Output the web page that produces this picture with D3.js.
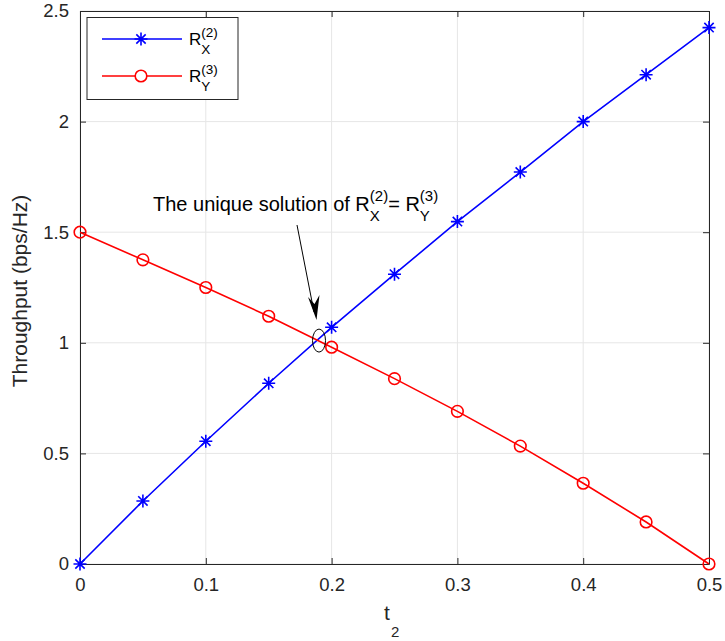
<!DOCTYPE html>
<html><head><meta charset="utf-8">
<script src="https://cdn.jsdelivr.net/npm/d3@7"></script>
<style>body{margin:0;background:#fff}svg{font-family:"Liberation Sans",Arial,sans-serif}</style>
</head><body>
<svg id="c" width="725" height="641"></svg>
<script>
const tValues = [0,0.05,0.1,0.15,0.2,0.25,0.3,0.35,0.4,0.45,0.5];
const rX2 = [0,0.285,0.555,0.817,1.07,1.31,1.548,1.772,2.0,2.212,2.425];
const rY3 = [1.5,1.375,1.25,1.12,0.98,0.838,0.69,0.533,0.365,0.19,0];
const xTicks = [0,0.1,0.2,0.3,0.4,0.5];
const yTicks = [0,0.5,1,1.5,2,2.5];
const solution = {t:0.19, v:1.01};

const svg = d3.select("#c");
const L=80,R=709,T=11,B=564;
const x = d3.scaleLinear().domain([0,0.5]).range([L,R]);
const y = d3.scaleLinear().domain([0,2.5]).range([B,T]);

// grid
svg.append("g").selectAll("line").data(xTicks).join("line")
  .attr("x1",d=>x(d)).attr("x2",d=>x(d)).attr("y1",T).attr("y2",B)
  .attr("stroke","#e6e6e6").attr("stroke-width",1);
svg.append("g").selectAll("line").data(yTicks).join("line")
  .attr("y1",d=>y(d)).attr("y2",d=>y(d)).attr("x1",L).attr("x2",R)
  .attr("stroke","#e6e6e6").attr("stroke-width",1);

// axes
const fs = 18.5;
svg.append("g").attr("transform",`translate(0,${B})`)
  .call(d3.axisBottom(x).tickValues(xTicks).tickFormat(d3.format("")).tickSizeInner(-6).tickSizeOuter(0).tickPadding(14));
svg.append("g").attr("transform",`translate(${L},0)`)
  .call(d3.axisLeft(y).tickValues(yTicks).tickFormat(d3.format("")).tickSizeInner(-6).tickSizeOuter(0).tickPadding(11));
svg.append("g").attr("transform",`translate(0,${T})`)
  .call(d3.axisTop(x).tickValues(xTicks).tickFormat("").tickSizeInner(-6).tickSizeOuter(0));
svg.append("g").attr("transform",`translate(${R},0)`)
  .call(d3.axisRight(y).tickValues(yTicks).tickFormat("").tickSizeInner(-6).tickSizeOuter(0));
svg.selectAll(".domain").attr("stroke","#262626");
svg.selectAll(".tick line").attr("stroke","#262626");
svg.selectAll(".tick text").attr("font-size",fs).attr("fill","#262626").attr("font-family","Liberation Sans, Arial, sans-serif");

// labels
svg.append("text").attr("transform",`translate(27,291) rotate(-90)`)
  .attr("text-anchor","middle").attr("font-size",21).attr("fill","#262626")
  .text("Throughput (bps/Hz)");
svg.append("text").attr("x",384).attr("y",620).attr("font-size",21).attr("fill","#262626").text("t");
svg.append("text").attr("x",391).attr("y",637).attr("font-size",15).attr("fill","#262626").text("2");

// lines
const line = d3.line().x((d,i)=>x(tValues[i])).y(d=>y(d));
svg.append("path").datum(rX2).attr("d",line).attr("fill","none").attr("stroke","#0000ff").attr("stroke-width",1.6);
svg.append("path").datum(rY3).attr("d",line).attr("fill","none").attr("stroke","#ff0000").attr("stroke-width",1.6);

function star(g,cx,cy,s,color){
  const r=s/2, d=r*0.72;
  const p = `M${cx-r},${cy}L${cx+r},${cy}M${cx},${cy-r}L${cx},${cy+r}M${cx-d},${cy-d}L${cx+d},${cy+d}M${cx-d},${cy+d}L${cx+d},${cy-d}`;
  g.append("path").attr("d",p).attr("stroke",color).attr("stroke-width",1.6).attr("fill","none");
}
const gx = svg.append("g");
rX2.forEach((v,i)=>star(gx,x(tValues[i]),y(v),13,"#0000ff"));
svg.append("g").selectAll("circle").data(rY3).join("circle")
  .attr("cx",(d,i)=>x(tValues[i])).attr("cy",d=>y(d)).attr("r",5.8)
  .attr("fill","none").attr("stroke","#ff0000").attr("stroke-width",1.6);

// helper: base text + stacked sup/sub
function rText(g,xx,yy,base,sup,sub,size,subSize){
  const t = g.append("text").attr("x",xx).attr("y",yy).attr("font-size",size).attr("fill","#000").text(base);
  const w = t.node().getComputedTextLength();
  const s1 = g.append("text").attr("x",xx+w).attr("y",yy-size*0.5).attr("font-size",subSize).attr("fill","#000").text(sup);
  g.append("text").attr("x",xx+w).attr("y",yy+size*0.5).attr("font-size",subSize).attr("fill","#000").text(sub);
  return xx + w + s1.node().getComputedTextLength();
}

// annotation
svg.append("ellipse").attr("cx",x(solution.t)).attr("cy",y(solution.v)).attr("rx",6.5).attr("ry",11.5)
  .attr("fill","none").attr("stroke","#000").attr("stroke-width",1);
svg.append("line").attr("x1",297).attr("y1",225).attr("x2",314).attr("y2",312)
  .attr("stroke","#000").attr("stroke-width",1);
svg.append("path").attr("d","M316.5,320 L308,297 L314.5,304 L319.5,295 Z").attr("fill","#000");
const ag = svg.append("g");
let nx = rText(ag,153,211,"The unique solution of R","(2)","X",20,15);
rText(ag,nx,211,"= R","(3)","Y",20,15);

// legend
const lg = svg.append("g");
lg.append("rect").attr("x",87).attr("y",17.5).attr("width",151).attr("height",82)
  .attr("fill","#fff").attr("stroke","#262626").attr("stroke-width",1);
const items=[{c:"#0000ff",sub:"X",sup:"(2)",y:39,m:"star"},{c:"#ff0000",sub:"Y",sup:"(3)",y:76,m:"circle"}];
items.forEach(it=>{
  lg.append("line").attr("x1",102).attr("x2",182).attr("y1",it.y).attr("y2",it.y).attr("stroke",it.c).attr("stroke-width",1.6);
  if(it.m==="star") star(lg,141,it.y,13,it.c);
  else lg.append("circle").attr("cx",141).attr("cy",it.y).attr("r",5.8).attr("fill","#fff").attr("stroke",it.c).attr("stroke-width",1.6);
  rText(lg,189,it.y+6,"R",it.sup,it.sub,17,13.5);
});
</script>
</body></html>
